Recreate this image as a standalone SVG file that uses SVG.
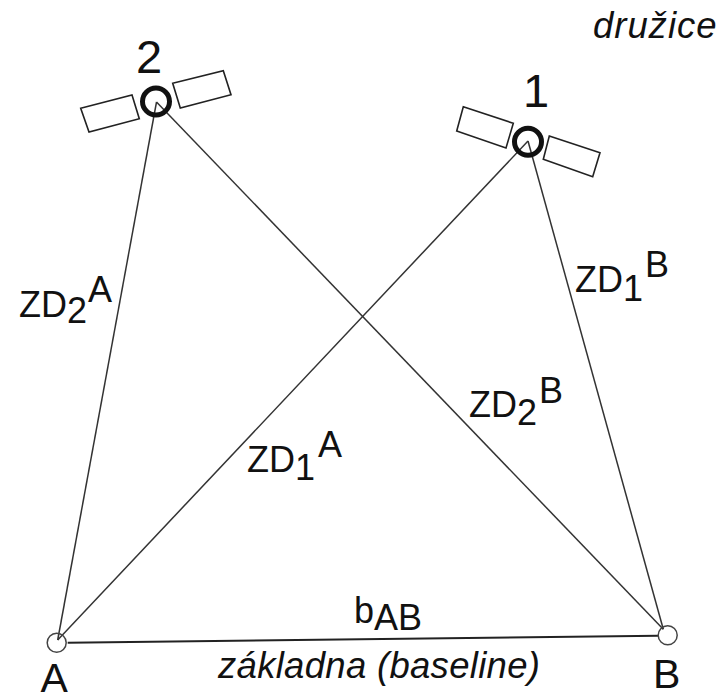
<svg xmlns="http://www.w3.org/2000/svg" width="720" height="694" viewBox="0 0 720 694">
<style>
text{font-family:"Liberation Sans",Arial,sans-serif;fill:#111}
.s{font-size:36px}
.n{font-size:47px}
.e{font-size:41px}
.i{font-style:italic;font-size:36.5px}
.c{fill:none;stroke:#333;stroke-width:1.5}
.b{fill:none;stroke:#222;stroke-width:2}
.p{fill:none;stroke:#444;stroke-width:1.5}
.sat{fill:none;stroke:#111;stroke-width:5}
.st{fill:#fff;stroke:#222;stroke-width:1.6}
</style>
<rect width="720" height="694" fill="#fff"/>
<g id="connectors">
<path class="c" d="M156.500 102L57.700 640"/>
<path class="c" d="M156.500 102L663.300 629.300"/>
<path class="c" d="M528 141L57.700 640"/>
<path class="c" d="M528 141L663.300 629.300"/>
<path class="b" d="M67.700 642.700L658 635.700"/>
</g>
<g id="sat2">
<polygon class="st" points="80.700,108.300 132,95 139.300,118.700 89,132"/>
<polygon class="st" points="172.700,83.300 223.300,70.700 231,94.700 180.300,108"/>
<circle class="sat" cx="156" cy="101.500" r="13.500"/>
<text class="n" x="136" y="73">2</text>
</g>
<g id="sat1">
<polygon class="st" points="463.300,106.700 513.300,123.300 506,148 456.700,131"/>
<polygon class="st" points="549.300,136 600,152.700 592.700,176.700 543.300,159.300"/>
<circle class="sat" cx="528" cy="141.700" r="13.500"/>
<text class="n" x="523" y="107">1</text>
</g>
<g id="nodeA"><circle class="p" cx="56.700" cy="642.700" r="9.500"/><text class="e" x="40.500" y="692">A</text></g>
<g id="nodeB"><circle class="p" cx="667.700" cy="635.300" r="9.500"/><text class="e" x="653" y="688">B</text></g>
<g id="labels">
<text class="i" x="593" y="37.500" letter-spacing="1">družice</text>
<text class="i" x="218" y="678" letter-spacing="0.300">základna (baseline)</text>
<text x="19" y="317" class="s">ZD<tspan dy="6">2</tspan><tspan dy="-21" dx="1">A</tspan></text>
<text x="575" y="292" class="s">ZD<tspan dy="8.500">1</tspan><tspan dy="-24" dx="2">B</tspan></text>
<text x="469" y="417" class="s">ZD<tspan dy="8">2</tspan><tspan dy="-22.500" dx="2">B</tspan></text>
<text x="247" y="472" class="s">ZD<tspan dy="7.500">1</tspan><tspan dy="-22.500" dx="3">A</tspan></text>
<text x="354" y="622.500" class="s">b<tspan dy="7.500">AB</tspan></text>
</g>
</svg>
